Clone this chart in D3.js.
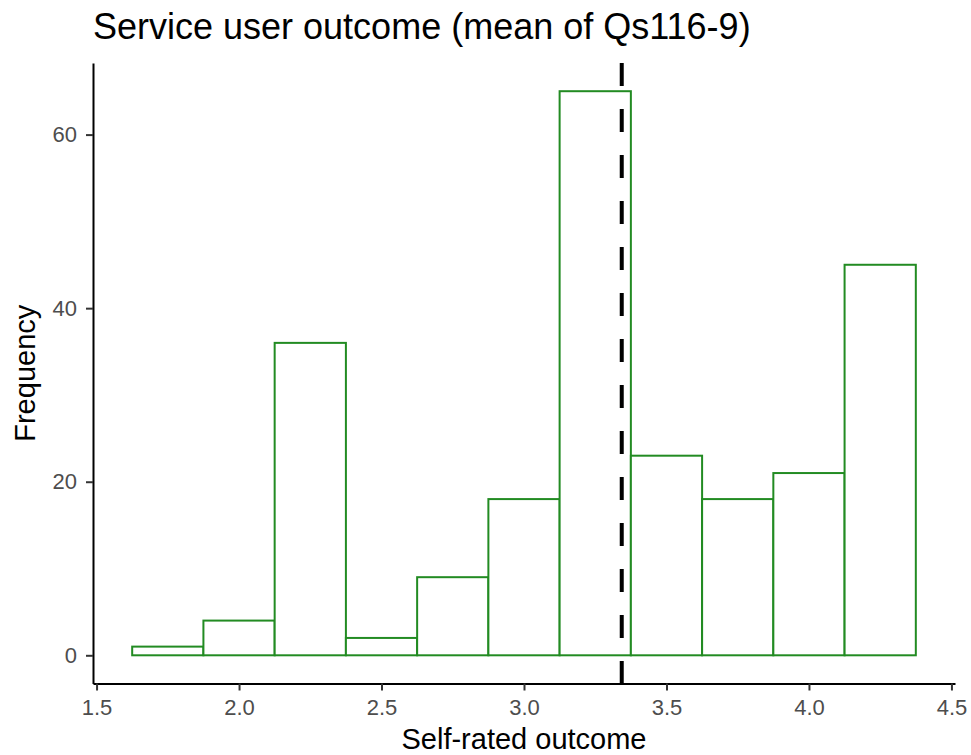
<!DOCTYPE html>
<html>
<head>
<meta charset="utf-8">
<script src="https://cdn.jsdelivr.net/npm/d3@7"></script>
<style>
  body { margin: 0; background: #fff; }
  svg text { font-family: "Liberation Sans", Arial, sans-serif; }
</style>
</head>
<body>
<svg id="chart" width="971" height="755"></svg>
<script>
// Histogram bins (width 0.25) of the mean self-rated outcome
const binStarts = [1.625, 1.875, 2.125, 2.375, 2.625, 2.875, 3.125, 3.375, 3.625, 3.875, 4.125];
const binWidth = 0.25;
const counts = [1, 4, 36, 2, 9, 18, 65, 23, 18, 21, 45];
const meanValue = 3.343;
const xTicks = [1.5, 2.0, 2.5, 3.0, 3.5, 4.0, 4.5];
const yTicks = [0, 20, 40, 60];
const titleText = "Service user outcome (mean of Qs116-9)";
const xTitle = "Self-rated outcome";
const yTitle = "Frequency";

(function () {
  const svg = d3.select("#chart");
  const panel = { left: 93, right: 955, top: 63, bottom: 683.5 };

  const xMin = binStarts[0], xMax = binStarts[binStarts.length - 1] + binWidth;
  const xPad = (xMax - xMin) * 0.05;
  const x = d3.scaleLinear().domain([xMin - xPad, xMax + xPad]).range([panel.left, panel.right]);
  const yMax = d3.max(counts);
  const y = d3.scaleLinear().domain([-yMax * 0.05, yMax * 1.05]).range([panel.bottom, panel.top]);

  const bins = binStarts.map((s, i) => ({ x0: s, x1: s + binWidth, n: counts[i] }));

  // Bars
  svg.append("g").selectAll("rect").data(bins).join("rect")
    .attr("x", d => x(d.x0))
    .attr("y", d => y(d.n))
    .attr("width", d => x(d.x1) - x(d.x0))
    .attr("height", d => y(0) - y(d.n))
    .attr("fill", "#ffffff")
    .attr("stroke", "#228b22")
    .attr("stroke-width", 2);

  // Mean line
  svg.append("line")
    .attr("x1", x(meanValue)).attr("x2", x(meanValue))
    .attr("y1", panel.top).attr("y2", panel.bottom)
    .attr("stroke", "#000")
    .attr("stroke-width", 4)
    .attr("stroke-dasharray", "23,23");

  // Axes
  const xAxis = svg.append("g").attr("transform", `translate(0,${panel.bottom})`)
    .call(d3.axisBottom(x).tickValues(xTicks).tickFormat(d3.format(".1f")).tickSize(7).tickPadding(9).tickSizeOuter(0));
  const yAxis = svg.append("g").attr("transform", `translate(${panel.left},0)`)
    .call(d3.axisLeft(y).tickValues(yTicks).tickSize(7).tickPadding(9).tickSizeOuter(0));

  [xAxis, yAxis].forEach(g => {
    g.select(".domain").attr("stroke", "#000").attr("stroke-width", 2);
    g.selectAll(".tick line").attr("stroke", "#333").attr("stroke-width", 2);
    g.selectAll(".tick text").attr("fill", "#4d4d4d").attr("font-size", 22)
      .attr("font-family", "Liberation Sans, Arial, sans-serif");
  });

  // Titles
  svg.append("text").attr("x", panel.left).attr("y", 39)
    .attr("font-size", 36).attr("fill", "#000").text(titleText);
  svg.append("text").attr("x", (panel.left + panel.right) / 2).attr("y", 749)
    .attr("text-anchor", "middle").attr("font-size", 29).attr("fill", "#000").text(xTitle);
  svg.append("text")
    .attr("transform", `translate(35,${(panel.top + panel.bottom) / 2}) rotate(-90)`)
    .attr("text-anchor", "middle").attr("font-size", 29).attr("fill", "#000").text(yTitle);
})();
</script>
</body>
</html>
